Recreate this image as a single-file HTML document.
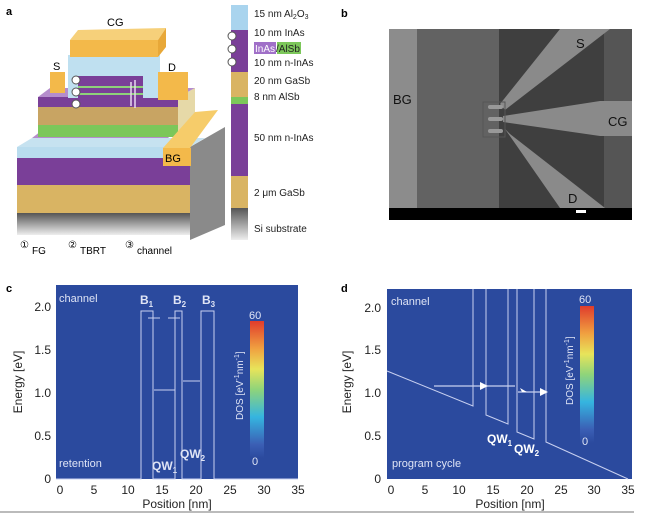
<!DOCTYPE html>
<html><head><meta charset="utf-8"><style>
body{margin:0;background:#fff;width:650px;height:516px;overflow:hidden}
svg text{font-family:"Liberation Sans",sans-serif}
</style></head><body>
<svg width="650" height="516" viewBox="0 0 650 516" xmlns="http://www.w3.org/2000/svg">
<defs>
<linearGradient id="cb" x1="0" y1="1" x2="0" y2="0">
<stop offset="0" stop-color="#2b4a9e"/><stop offset="0.1" stop-color="#3b5fb5"/><stop offset="0.3" stop-color="#35b5e0"/><stop offset="0.5" stop-color="#8fd47a"/><stop offset="0.65" stop-color="#e8e45a"/><stop offset="0.8" stop-color="#f0a040"/><stop offset="1" stop-color="#e03c2c"/></linearGradient>
<linearGradient id="gr" x1="0" y1="0" x2="0" y2="1"><stop offset="0" stop-color="#555"/><stop offset="1" stop-color="#eee"/></linearGradient>
</defs>
<!-- panel a -->
<text x="6" y="15" font-size="11" font-weight="bold">a</text>
<polygon points="190,147 225,127 225,225 190,240" fill="#8a8a8a"/>
<rect x="17" y="213" width="173" height="22" fill="url(#gr)"/>
<rect x="17" y="185" width="173" height="28" fill="#d9b463"/>
<rect x="17" y="158" width="173" height="27" fill="#7a3f98"/>
<rect x="17" y="147" width="173" height="11" fill="#b9dcee"/>
<polygon points="17,147 32,138 205,138 190,147" fill="#c6e2f0"/>
<polygon points="32,138 45,128 180,128 168,138" fill="#b58dcc"/>
<polygon points="178,97 195,88 195,128 178,137" fill="#e6d9a8"/>
<rect x="38" y="125" width="140" height="12" fill="#7cc75a"/>
<rect x="38" y="107" width="140" height="18" fill="#c8a463"/>
<rect x="38" y="97" width="140" height="10" fill="#7a3f98"/>
<polygon points="38,97 50,88 195,88 178,97" fill="#b58dcc"/>
<rect x="68" y="55" width="92" height="43" fill="#bfe0f0"/>
<rect x="78" y="76" width="65" height="24" fill="#7a3f98"/>
<rect x="78" y="86" width="65" height="2" fill="#8ed07a"/>
<rect x="78" y="93" width="65" height="2" fill="#8ed07a"/>
<line x1="135" y1="80" x2="135" y2="108" stroke="#e8d8f0" stroke-width="1.5"/>
<line x1="131" y1="82" x2="131" y2="106" stroke="#e8d8f0" stroke-width="1.5"/>
<circle cx="76" cy="80" r="4" fill="#fff" stroke="#555"/><circle cx="76" cy="92" r="4" fill="#fff" stroke="#555"/><circle cx="76" cy="104" r="4" fill="#fff" stroke="#555"/>
<rect x="50" y="72" width="15" height="21" fill="#f3b94a"/>
<rect x="158" y="72" width="30" height="28" fill="#f3b94a"/>
<text x="53" y="70" font-size="11">S</text><text x="168" y="71" font-size="11">D</text>
<polygon points="70,40 78,30 166,28 158,40" fill="#f6d07a"/>
<rect x="70" y="40" width="88" height="17" fill="#f3b94a"/>
<polygon points="158,40 166,28 166,47 158,57" fill="#e8a838"/>
<text x="107" y="26" font-size="11">CG</text>
<polygon points="163,148 195,112 218,110 190,148" fill="#f6cc6a"/>
<rect x="163" y="148" width="28" height="18" fill="#f3b94a"/>
<text x="165" y="162" font-size="11">BG</text>
<text x="20" y="248" font-size="10">①</text><text x="32" y="254" font-size="10">FG</text>
<text x="68" y="248" font-size="10">②</text><text x="80" y="254" font-size="10">TBRT</text>
<text x="125" y="248" font-size="10">③</text><text x="137" y="254" font-size="10">channel</text>
<!-- column -->
<rect x="231" y="5" width="17" height="25" fill="#a9d4ee"/>
<rect x="231" y="30" width="17" height="42" fill="#7a3f98"/>
<rect x="231" y="72" width="17" height="25" fill="#d9b463"/>
<rect x="231" y="97" width="17" height="7" fill="#7cc75a"/>
<rect x="231" y="104" width="17" height="72" fill="#7a3f98"/>
<rect x="231" y="176" width="17" height="32" fill="#d9b463"/>
<rect x="231" y="208" width="17" height="32" fill="url(#gr)"/>
<circle cx="232" cy="36" r="4" fill="#fff" stroke="#555"/><circle cx="232" cy="49" r="4" fill="#fff" stroke="#555"/><circle cx="232" cy="62" r="4" fill="#fff" stroke="#555"/>
<g font-size="10" fill="#222">
<text x="254" y="17">15 nm Al<tspan font-size="7" dy="2">2</tspan><tspan dy="-2">O</tspan><tspan font-size="7" dy="2">3</tspan></text>
<text x="254" y="36">10 nm InAs</text>
<rect x="254" y="42" width="22" height="12" fill="#a070c8"/><rect x="277" y="42" width="24" height="12" fill="#7cc75a"/>
<text x="255" y="52" fill="#fff">InAs</text><text x="276" y="52">/AlSb</text>
<text x="254" y="66">10 nm n-InAs</text>
<text x="254" y="84">20 nm GaSb</text>
<text x="254" y="100">8 nm AlSb</text>
<text x="254" y="141">50 nm n-InAs</text>
<text x="254" y="196">2 μm GaSb</text>
<text x="254" y="232">Si substrate</text>
</g>
<!-- panel b -->
<text x="341" y="17" font-size="11" font-weight="bold">b</text>
<rect x="389" y="29" width="243" height="191" fill="#6e6e6e"/>
<rect x="389" y="29" width="28" height="180" fill="#8c8c8c"/>
<rect x="417" y="29" width="82" height="180" fill="#626262"/>
<rect x="499" y="29" width="105" height="180" fill="#3f3f3f"/>
<rect x="604" y="29" width="28" height="180" fill="#555"/>
<polygon points="500,104 560,29 610,29 505,110" fill="#8a8a8a"/>
<polygon points="503,116 600,101 632,101 632,136 600,136 503,122" fill="#8a8a8a"/>
<polygon points="505,129 510,134 605,208 560,208" fill="#8a8a8a"/>
<rect x="483" y="102" width="22" height="35" fill="none" stroke="#555"/>
<rect x="488" y="105" width="15" height="4" rx="2" fill="#999"/>
<rect x="488" y="117" width="15" height="4" rx="2" fill="#999"/>
<rect x="488" y="129" width="15" height="4" rx="2" fill="#999"/>
<rect x="389" y="208" width="243" height="12" fill="#000"/>
<rect x="576" y="210" width="10" height="3" fill="#fff"/>
<g font-size="13" fill="#111"><text x="393" y="104">BG</text><text x="576" y="48">S</text><text x="608" y="126">CG</text><text x="568" y="203">D</text></g>
<!-- panel c -->
<text x="6" y="292" font-size="11" font-weight="bold">c</text>
<rect x="56" y="285" width="242" height="194" fill="#2b4a9e"/>
<g stroke="#c8d0f0" stroke-width="1" fill="none">
<polyline points="56,479 141,479 141,311 153,311 153,479 175,479 175,311 182,311 182,479 201,479 201,311 214,311 214,479 298,479"/>
<line x1="154" y1="390" x2="175" y2="390"/><line x1="183" y1="381" x2="200" y2="381"/>
<line x1="148" y1="318" x2="160" y2="318"/><line x1="168" y1="318" x2="180" y2="318"/>
</g>
<rect x="250" y="321" width="14" height="137" fill="url(#cb)"/>
<g fill="#dfe4f5" font-size="11"><text x="59" y="302">channel</text><text x="59" y="467">retention</text>
<text x="249" y="319">60</text><text x="252" y="465">0</text>
<text transform="translate(243,420) rotate(-90)" font-size="10">DOS [eV<tspan font-size="7" dy="-4">-1</tspan><tspan dy="4">nm</tspan><tspan font-size="7" dy="-4">-1</tspan><tspan dy="4">]</tspan></text>
<g font-weight="bold" font-size="12"><text x="140" y="304">B<tspan font-size="8" dy="3">1</tspan></text><text x="173" y="304">B<tspan font-size="8" dy="3">2</tspan></text><text x="202" y="304">B<tspan font-size="8" dy="3">3</tspan></text>
<text x="152" y="470">QW<tspan font-size="8" dy="3">1</tspan></text><text x="180" y="458">QW<tspan font-size="8" dy="3">2</tspan></text></g></g>
<g font-size="12" fill="#222" text-anchor="end"><text x="51" y="483">0</text><text x="51" y="440">0.5</text><text x="51" y="397">1.0</text><text x="51" y="354">1.5</text><text x="51" y="311">2.0</text></g>
<g font-size="12" fill="#222" text-anchor="middle"><text x="60" y="494">0</text><text x="94" y="494">5</text><text x="128" y="494">10</text><text x="162" y="494">15</text><text x="196" y="494">20</text><text x="230" y="494">25</text><text x="264" y="494">30</text><text x="298" y="494">35</text>
<text x="177" y="508">Position [nm]</text>
<text transform="translate(22,382) rotate(-90)">Energy [eV]</text></g>
<line x1="0" y1="512" x2="330" y2="512" stroke="#777"/>
<!-- panel d -->
<text x="341" y="292" font-size="11" font-weight="bold">d</text>
<rect x="387" y="289" width="245" height="190" fill="#2b4a9e"/>
<g stroke="#c8d0f0" stroke-width="1" fill="none">
<polyline points="387,371 473,406 473,289"/>
<polyline points="486,289 486,415 508,424 508,289"/>
<polyline points="517,289 517,432 534,439 534,289"/>
<polyline points="546,289 546,442 628,479"/>
<line x1="434" y1="386" x2="515" y2="386" stroke-width="1.3"/><line x1="518" y1="392" x2="545" y2="392" stroke-width="1.3"/>
</g>
<g fill="#fff"><polygon points="480,382 488,386 480,390"/><polygon points="520,388 527,392 522,392"/><polygon points="540,388 548,392 540,396"/></g>
<rect x="580" y="306" width="14" height="137" fill="url(#cb)"/>
<g fill="#dfe4f5" font-size="11"><text x="391" y="305">channel</text><text x="392" y="467">program cycle</text>
<text x="579" y="303">60</text><text x="582" y="445">0</text>
<text transform="translate(573,405) rotate(-90)" font-size="10">DOS [eV<tspan font-size="7" dy="-4">-1</tspan><tspan dy="4">nm</tspan><tspan font-size="7" dy="-4">-1</tspan><tspan dy="4">]</tspan></text>
<g font-weight="bold" font-size="12" fill="#fff"><text x="487" y="443">QW<tspan font-size="8" dy="3">1</tspan></text><text x="514" y="453">QW<tspan font-size="8" dy="3">2</tspan></text></g></g>
<g font-size="12" fill="#222" text-anchor="end"><text x="381" y="483">0</text><text x="381" y="440">0.5</text><text x="381" y="397">1.0</text><text x="381" y="354">1.5</text><text x="381" y="312">2.0</text></g>
<g font-size="12" fill="#222" text-anchor="middle"><text x="391" y="494">0</text><text x="425" y="494">5</text><text x="459" y="494">10</text><text x="493" y="494">15</text><text x="527" y="494">20</text><text x="561" y="494">25</text><text x="594" y="494">30</text><text x="628" y="494">35</text>
<text x="510" y="508">Position [nm]</text>
<text transform="translate(351,382) rotate(-90)">Energy [eV]</text></g>
<line x1="330" y1="512" x2="634" y2="512" stroke="#777"/>
</svg>
</body></html>
